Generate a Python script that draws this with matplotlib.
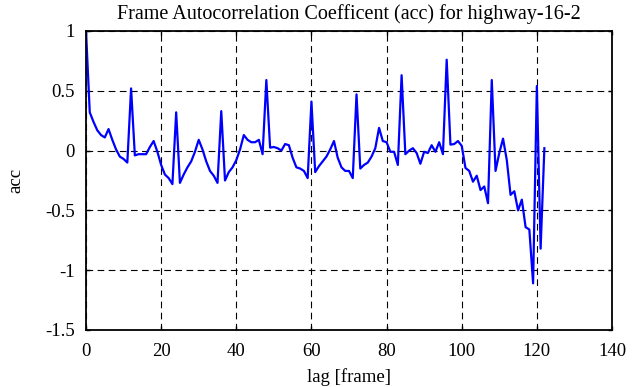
import matplotlib
matplotlib.use('Agg')
import matplotlib.pyplot as plt
import numpy as np

# autocorrelation values, lag 0..122
acc = [1.00, 0.32, 0.24, 0.17, 0.13, 0.11, 0.18, 0.09, 0.01, -0.05,
       -0.07, -0.10, 0.52, -0.04, -0.03, -0.03, -0.03, 0.03, 0.08, -0.01,
       -0.12, -0.20, -0.23, -0.28, 0.32, -0.27, -0.20, -0.14, -0.09, -0.01,
       0.09, 0.01, -0.09, -0.17, -0.21, -0.27, 0.33, -0.25, -0.18, -0.14,
       -0.08, 0.01, 0.13, 0.09, 0.07, 0.07, 0.09, -0.03, 0.59, 0.025,
       0.03, 0.02, 0.00, 0.055, 0.045, -0.06, -0.14, -0.15, -0.17, -0.23,
       0.41, -0.18, -0.13, -0.09, -0.05, 0.01, 0.08, -0.06, -0.14, -0.17,
       -0.17, -0.23, 0.47, -0.15, -0.12, -0.10, -0.05, 0.02, 0.19, 0.08,
       0.07, -0.01, -0.01, -0.12, 0.63, -0.03, 0.00, 0.02, -0.02, -0.11,
       -0.01, -0.02, 0.045, -0.01, 0.07, -0.03, 0.76, 0.05, 0.055, 0.08,
       0.04, -0.145, -0.17, -0.26, -0.21, -0.33, -0.30, -0.44, 0.59, -0.17,
       -0.02, 0.10, -0.08, -0.37, -0.34, -0.50, -0.41, -0.64, -0.66, -1.11,
       0.54, -0.82, 0.02]
lag = np.arange(len(acc))

xticks = [0, 20, 40, 60, 80, 100, 120, 140]
yticks = [-1.5, -1, -0.5, 0, 0.5, 1]
ytick_labels = ['-1.5', '-1', '-0.5', '0', '0.5', '1']

plt.rcParams['font.family'] = ['Liberation Serif', 'DejaVu Serif']

fig = plt.figure(figsize=(6.35, 3.87), dpi=100)
ax = fig.add_axes([86/635, 1 - 330/387, (612-86)/635, (330-31)/387])

ax.plot(lag, acc, color=(0, 0, 1), lw=1.6)

ax.set_xlim(0, 140)
ax.set_ylim(-1.5, 1)
ax.set_xticks(xticks)
ax.set_xticklabels([str(t) for t in xticks])
ax.set_yticks(yticks)
ax.set_yticklabels(ytick_labels)
ax.tick_params(direction='in', length=3, width=1, labelsize=13.5,
               top=True, right=True)
ax.tick_params(axis='x', pad=9)
ax.tick_params(axis='y', pad=8)
ax.grid(True, color='black', linestyle=(0, (6, 4)), linewidth=0.8)
for s in ax.spines.values():
    s.set_linewidth(1.3)

ax.set_title('Frame Autocorrelation Coefficent (acc) for highway-16-2',
             fontsize=14.5, pad=9)
ax.set_xlabel('lag [frame]', fontsize=13.5, labelpad=6)
ax.set_ylabel('acc', fontsize=13.5, labelpad=15)

fig.savefig('out.png', dpi=100)
